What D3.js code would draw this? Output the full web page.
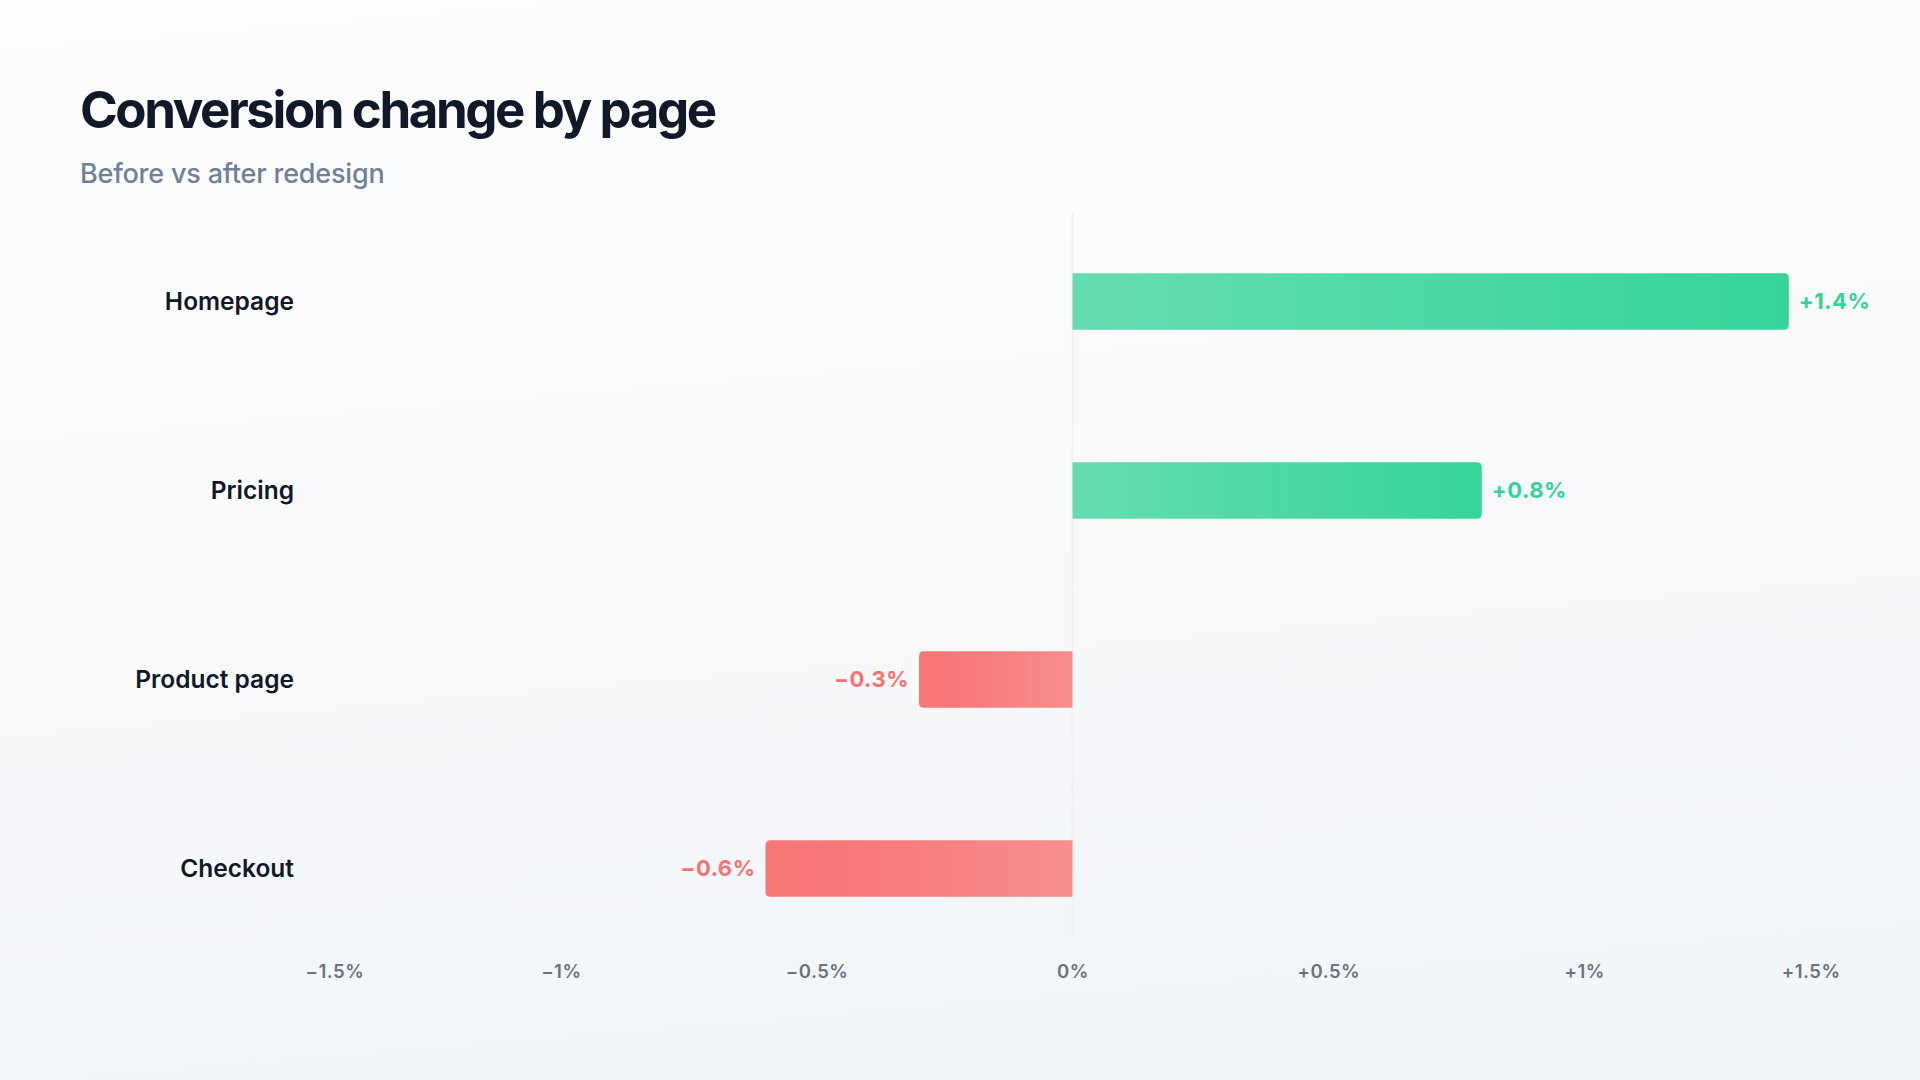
<!DOCTYPE html>
<html>
<head>
<meta charset="utf-8">
<script src="https://cdn.jsdelivr.net/npm/d3@7"></script>
<style>
  html, body { margin: 0; padding: 0; }
  body { width: 1920px; height: 1080px; overflow: hidden; font-family: Inter, "Noto Sans", sans-serif; }
</style>
</head>
<body>
<div id="chart-area"></div>
<script>
  // data
  var pages = ['Homepage', 'Pricing', 'Product page', 'Checkout'];
  var changes = [1.4, 0.8, -0.3, -0.6];
  var tickValues = [-1.5, -1, -0.5, 0, 0.5, 1, 1.5];
  var tickLabels = ['\u22121.5%', '\u22121%', '\u22120.5%', '0%', '+0.5%', '+1%', '+1.5%'];

  var width = 1920;
  var height = 1080;

  var svg = d3.select('#chart-area')
    .append('svg')
    .attr('width', width)
    .attr('height', height);

  var defs = svg.append('defs');

  var bg = defs.append('linearGradient').attr('id', 'bg')
    .attr('x1', 0).attr('y1', 0).attr('x2', 0.15).attr('y2', 1);
  bg.append('stop').attr('offset', '0%').attr('stop-color', '#fdfdfe');
  bg.append('stop').attr('offset', '100%').attr('stop-color', '#f3f6f9');

  // gradients run from the zero line (lighter) to the bar tip
  var pos = defs.append('linearGradient').attr('id', 'pos')
    .attr('x1', 0).attr('y1', 0).attr('x2', 1).attr('y2', 0);
  pos.append('stop').attr('offset', '0%').attr('stop-color', '#66ddb1');
  pos.append('stop').attr('offset', '100%').attr('stop-color', '#36d49a');

  var neg = defs.append('linearGradient').attr('id', 'neg')
    .attr('x1', 0).attr('y1', 0).attr('x2', 1).attr('y2', 0);
  neg.append('stop').attr('offset', '0%').attr('stop-color', '#f77777');
  neg.append('stop').attr('offset', '25%').attr('stop-color', '#f77878');
  neg.append('stop').attr('offset', '100%').attr('stop-color', '#f88e8e');

  svg.append('rect').attr('width', width).attr('height', height).attr('fill', 'url(#bg)');

  svg.append('text')
    .attr('x', 80).attr('y', 128)
    .attr('font-size', '51px').attr('font-weight', 700)
    .attr('letter-spacing', '-2.4px')
    .attr('fill', '#111827')
    .text('Conversion change by page');

  svg.append('text')
    .attr('x', 80).attr('y', 183)
    .attr('font-size', '27px').attr('font-weight', 500)
    .attr('letter-spacing', '-0.2px')
    .attr('fill', '#718096')
    .text('Before vs after redesign');

  var xScale = d3.scaleLinear()
    .domain([-1.5, 1.5])
    .range([305, 1840]);

  var yScale = d3.scaleBand()
    .domain(pages)
    .range([207, 963])
    .paddingInner(0.7)
    .paddingOuter(0.35);

  // zero line
  svg.append('line')
    .attr('x1', xScale(0)).attr('x2', xScale(0))
    .attr('y1', 213).attr('y2', 935)
    .attr('stroke', '#eef0f5').attr('stroke-width', 2);

  var r = 5;
  function barPath(v, y, h) {
    var x0 = xScale(0);
    var x1 = xScale(v);
    if (v >= 0) {
      return 'M' + x0 + ',' + y + 'H' + (x1 - r) + 'Q' + x1 + ',' + y + ' ' + x1 + ',' + (y + r) +
        'V' + (y + h - r) + 'Q' + x1 + ',' + (y + h) + ' ' + (x1 - r) + ',' + (y + h) + 'H' + x0 + 'Z';
    }
    return 'M' + x0 + ',' + y + 'H' + (x1 + r) + 'Q' + x1 + ',' + y + ' ' + x1 + ',' + (y + r) +
      'V' + (y + h - r) + 'Q' + x1 + ',' + (y + h) + ' ' + (x1 + r) + ',' + (y + h) + 'H' + x0 + 'Z';
  }

  var rows = svg.selectAll('.row')
    .data(pages.map(function (p, i) { return { page: p, value: changes[i] }; }))
    .enter().append('g').attr('class', 'row');

  rows.append('path')
    .attr('d', function (d) { return barPath(d.value, yScale(d.page), yScale.bandwidth()); })
    .attr('fill', function (d) { return d.value >= 0 ? 'url(#pos)' : 'url(#neg)'; });

  rows.append('text')
    .attr('x', 294)
    .attr('y', function (d) { return yScale(d.page) + yScale.bandwidth() / 2; })
    .attr('dy', '0.35em')
    .attr('text-anchor', 'end')
    .attr('font-size', '24.5px').attr('font-weight', 600)
    .attr('fill', '#111827')
    .text(function (d) { return d.page; });

  rows.append('text')
    .attr('x', function (d) { return d.value >= 0 ? xScale(d.value) + 10 : xScale(d.value) - 10; })
    .attr('y', function (d) { return yScale(d.page) + yScale.bandwidth() / 2; })
    .attr('dy', '0.35em')
    .attr('text-anchor', function (d) { return d.value >= 0 ? 'start' : 'end'; })
    .attr('font-size', '22px').attr('font-weight', 700)
    .attr('letter-spacing', '0.5px')
    .attr('fill', function (d) { return d.value >= 0 ? '#34d399' : '#f87171'; })
    .text(function (d) { return (d.value >= 0 ? '+' : '\u2212') + Math.abs(d.value).toFixed(1) + '%'; });

  var xAxisCall = d3.axisBottom(xScale)
    .tickValues(tickValues)
    .tickSize(0)
    .tickFormat(function (d, i) { return tickLabels[i]; });

  var xAxis = svg.append('g')
    .attr('transform', 'translate(0, 962)')
    .call(xAxisCall);
  xAxis.select('.domain').remove();
  xAxis.selectAll('text')
    .attr('font-family', 'Inter, sans-serif')
    .attr('font-size', '18.5px').attr('font-weight', 600)
    .attr('letter-spacing', '0.5px')
    .attr('fill', '#6b7280')
    .attr('text-anchor', function (d, i) { return i === 0 ? 'start' : (i === tickValues.length - 1 ? 'end' : 'middle'); });
</script>
</body>
</html>
